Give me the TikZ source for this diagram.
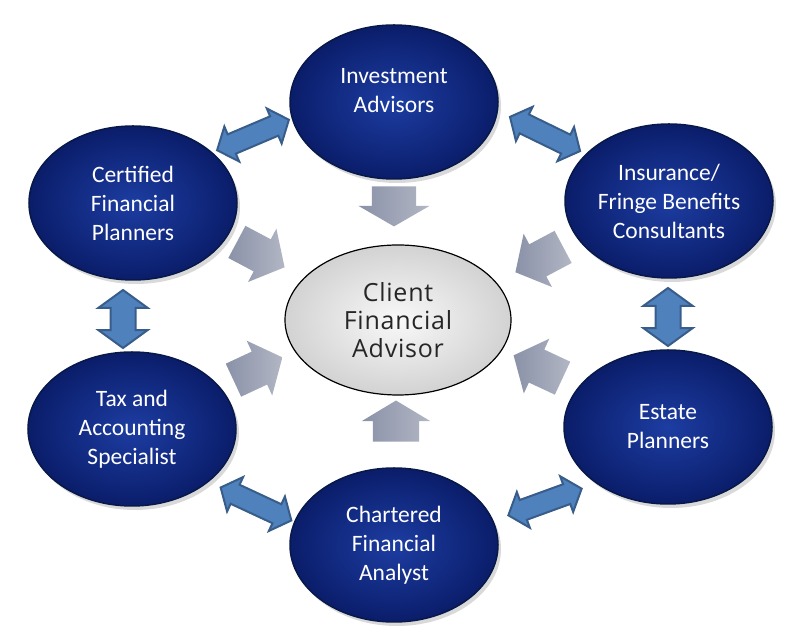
\documentclass[tikz,border=0pt]{standalone}
\usepackage{fontspec}
\setmainfont{Carlito}
\newfontfamily\centerfont[LetterSpace=3]{Open Sans}
\usetikzlibrary{shapes.geometric,shapes.arrows,shadows}
\definecolor{navyin}{HTML}{1D3DA2}
\definecolor{navyout}{HTML}{0A1D6A}
\definecolor{navyline}{HTML}{081848}
\definecolor{bluefill}{HTML}{4F81BD}
\definecolor{blueline}{HTML}{385D8A}
\definecolor{graytail}{HTML}{8A92A8}
\definecolor{graytip}{HTML}{B2B6C4}
\tikzset{
  rolebox/.style={ellipse, minimum width=208bp, minimum height=154bp, inner sep=0pt,
    inner color=navyin, outer color=navyout, draw=navyline, line width=1.5bp,
    drop shadow={opacity=0.3, shadow xshift=3bp, shadow yshift=-4bp},
    text=white, align=center, font=\fontsize{23.5bp}{29bp}\selectfont},
  clientbox/.style={ellipse, minimum width=226bp, minimum height=150bp, inner sep=0pt,
    inner color=gray!5, outer color=gray!35, draw=black, line width=1.2bp,
    text=black!85, align=center, font=\centerfont\fontsize{25bp}{28bp}\selectfont},
  feedarrow/.style={single arrow, inner xsep=0pt, inner ysep=18bp, minimum height=54bp,
    minimum width=0pt, single arrow head extend=12bp, single arrow tip angle=100,
    left color=graytail, right color=graytip, draw=none},
  linkarrow/.style={double arrow, inner xsep=0pt, inner ysep=9.5bp, minimum height=78bp,
    minimum width=0pt, double arrow head extend=8.5bp, double arrow tip angle=100,
    fill=bluefill, draw=blueline, line width=2bp},
  vlinkarrow/.style={linkarrow, inner ysep=11.5bp, minimum height=58bp,
    double arrow head extend=12bp, double arrow tip angle=108},
}
\begin{document}
\begin{tikzpicture}[x=1bp,y=1bp]
\useasboundingbox (0,0) rectangle (797,628);
% role ellipses
\node[rolebox] (inv) at (394,526) {Investment\\Advisors\\[-6bp]\mbox{}};
\node[rolebox] (cfp) at (133,425) {Certified\\Financial\\Planners};
\node[rolebox] (ins) at (669,427) {Insurance/\\Fringe Benefits\\Consultants};
\node[rolebox] (tax) at (132,199) {Tax and\\Accounting\\Specialist};
\node[rolebox] (est) at (668,201) {Estate\\Planners};
\node[rolebox] (cfa) at (394,83) {Chartered\\Financial\\Analyst};
% client
\node[clientbox] (cl) at (398,308) {Client\\Financial\\Advisor};
% gray arrows toward the client
\node[feedarrow, minimum height=40bp, inner ysep=22bp, single arrow head extend=13.5bp,
      single arrow tip angle=120, rotate=-90] (g1) at (394,428) {};
\node[feedarrow, minimum height=41bp, inner ysep=23bp, single arrow head extend=11bp,
      single arrow tip angle=118, rotate=90] (g2) at (396,200) {};
\node[feedarrow, rotate=-28] (g3) at (254,377) {};
\node[feedarrow, rotate=208] (g4) at (546,372) {};
\node[feedarrow, rotate=25] (g5) at (251,256) {};
\node[feedarrow, rotate=155] (g6) at (545,258) {};
% blue double arrows between neighbours
\node[linkarrow, rotate=23] (b1) at (253,493) {};
\node[linkarrow, rotate=-26] (b2) at (545,494) {};
\node[vlinkarrow, rotate=90] (b3) at (123,309) {};
\node[vlinkarrow, rotate=90] (b4) at (668,311) {};
\node[linkarrow, rotate=-25] (b5) at (256,124) {};
\node[linkarrow, rotate=20] (b6) at (545,126) {};
\end{tikzpicture}
\end{document}
